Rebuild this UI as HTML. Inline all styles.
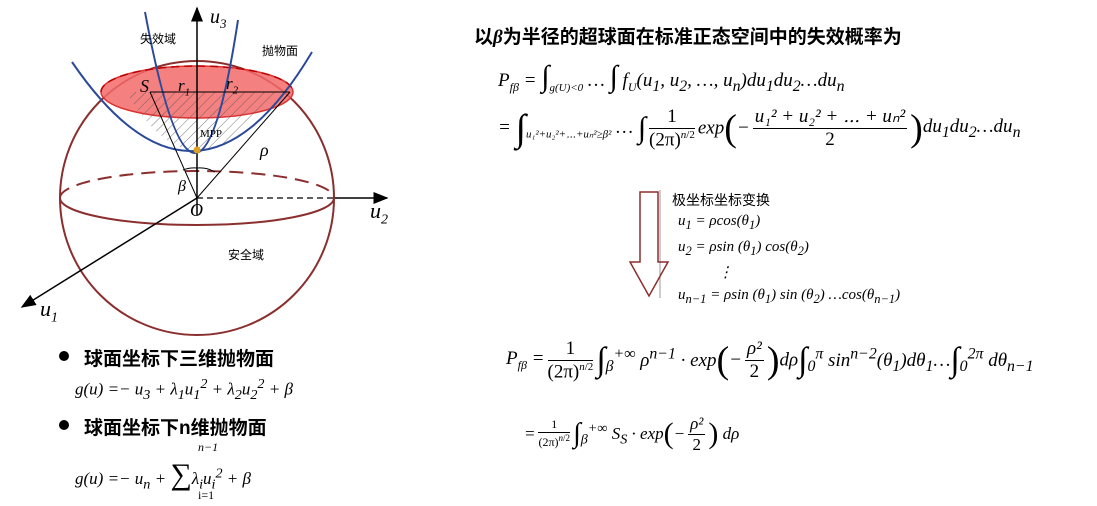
<!DOCTYPE html>
<html><head><meta charset="utf-8"><style>
body{margin:0;width:1097px;height:506px;background:#fff;position:relative;overflow:hidden;font-family:"Liberation Serif","Noto Serif CJK SC",serif;}
.t{position:absolute;white-space:nowrap;color:#000;}
.i{font-style:italic}
.cn{font-family:"Liberation Sans","Noto Sans CJK SC",sans-serif;}
.f{display:inline-block;vertical-align:middle;text-align:center;margin:0 3px}
.f>span{display:block;line-height:1.15}
.f>span:first-child{border-bottom:1px solid #000;padding:0 2px}
.p{font-size:38px;font-style:normal;vertical-align:middle;font-weight:lighter}
</style></head><body>
<svg width="1097" height="506" style="position:absolute;left:0;top:0">
<defs>
<pattern id="h" width="7" height="7" patternUnits="userSpaceOnUse" patternTransform="rotate(45)"><line x1="0" y1="0" x2="0" y2="7" stroke="#555" stroke-width="0.8"/></pattern>
<marker id="a" markerWidth="10" markerHeight="8" refX="9" refY="4" orient="auto"><path d="M0,0 L10,4 L0,8 z" fill="#000"/></marker>
</defs>
<circle cx="197" cy="198" r="137" fill="none" stroke="#8b2e2e" stroke-width="2"/>
<path d="M60,198 A137,27 0 0 1 334,198" fill="none" stroke="#8b2e2e" stroke-width="2" stroke-dasharray="14,8"/>
<path d="M60,198 A137,27 0 0 0 334,198" fill="none" stroke="#8b2e2e" stroke-width="2"/>
<ellipse cx="197" cy="92" rx="96" ry="26" fill="#f26a6a" fill-opacity="0.85" stroke="#d33" stroke-width="1.5"/>
<path d="M101,92 A96,26 0 0 1 293,92" fill="none" stroke="#b00" stroke-dasharray="8,5" stroke-width="1.5"/>
<path d="M126,92 Q197,210 275,92 Z" fill="url(#h)"/>
<path d="M72,62 Q197,245 312,52" fill="none" stroke="#2b4a9a" stroke-width="2"/>
<path d="M145,12 Q197,290 238,20" fill="none" stroke="#2b4a9a" stroke-width="2"/>
<line x1="197" y1="215" x2="197" y2="8" stroke="#000" stroke-width="1.5" marker-end="url(#a)"/>
<line x1="197" y1="198" x2="335" y2="198" stroke="#000" stroke-width="1.2" stroke-dasharray="6,4"/>
<line x1="335" y1="198" x2="387" y2="198" stroke="#000" stroke-width="1.5" marker-end="url(#a)"/>
<line x1="197" y1="198" x2="22" y2="307" stroke="#000" stroke-width="1.5" marker-end="url(#a)"/>
<line x1="197" y1="198" x2="290" y2="92" stroke="#000" stroke-width="1"/>
<line x1="197" y1="198" x2="150" y2="92" stroke="#000" stroke-width="1"/>
<line x1="197" y1="92" x2="150" y2="92" stroke="#000" stroke-width="1"/>
<line x1="197" y1="92" x2="290" y2="92" stroke="#000" stroke-width="1"/>
<circle cx="197" cy="150" r="3.5" fill="#e0a020"/>
<path d="M183,170 A30,30 0 0 1 197,168" fill="none" stroke="#000"/>
<path d="M197,168 A30,30 0 0 1 215,172" fill="none" stroke="#000"/>
<line x1="660" y1="190" x2="660" y2="298" stroke="#999"/>
<path d="M640,192 L658,192 L658,262 L668,262 L649,296 L630,262 L640,262 Z" fill="none" stroke="#8b2e2e" stroke-width="1.5"/>
<circle cx="64" cy="356" r="5" fill="#000"/>
<circle cx="64" cy="425" r="5" fill="#000"/>
</svg>
<div class="t i" style="left:210px;top:6px;font-size:20px">u<sub style="font-size:13px">3</sub></div>
<div class="t cn" style="left:140px;top:30px;font-size:12px">失效域</div>
<div class="t cn" style="left:262px;top:42px;font-size:12px">抛物面</div>
<div class="t i" style="left:140px;top:76px;font-size:18px">S</div>
<div class="t i" style="left:178px;top:76px;font-size:17px">r<sub style="font-size:11px">1</sub></div>
<div class="t i" style="left:226px;top:74px;font-size:17px">r<sub style="font-size:11px">2</sub></div>
<div class="t" style="left:200px;top:128px;font-size:11px">MPP</div>
<div class="t i" style="left:260px;top:140px;font-size:18px">ρ</div>
<div class="t i" style="left:178px;top:178px;font-size:16px">β</div>
<div class="t i" style="left:190px;top:200px;font-size:18px">O</div>
<div class="t i" style="left:370px;top:198px;font-size:22px">u<sub style="font-size:14px">2</sub></div>
<div class="t i" style="left:40px;top:296px;font-size:22px">u<sub style="font-size:14px">1</sub></div>
<div class="t cn" style="left:228px;top:246px;font-size:12px">安全域</div>
<div class="t cn" style="left:84px;top:344px;font-size:19px;font-weight:bold">球面坐标下三维抛物面</div>
<div class="t i" style="left:75px;top:376px;font-size:17px">g(u) =− u<sub>3</sub> + λ<sub>1</sub>u<sub>1</sub><sup>2</sup> + λ<sub>2</sub>u<sub>2</sub><sup>2</sup> + β</div>
<div class="t cn" style="left:84px;top:413px;font-size:19px;font-weight:bold">球面坐标下n维抛物面</div>
<div class="t i" style="left:75px;top:458px;font-size:17px">g(u) =− u<sub>n</sub> + <span style="font-size:30px;font-style:normal">∑</span>λ<sub>i</sub>u<sub>i</sub><sup>2</sup> + β</div>
<div class="t i" style="left:198px;top:440px;font-size:12px">n−1</div>
<div class="t" style="left:198px;top:488px;font-size:12px">i=1</div>
<div class="t cn" style="left:474px;top:22px;font-size:19px;font-weight:bold">以<i style="font-family:'Liberation Serif'">β</i>为半径的超球面在标准正态空间中的失效概率为</div>
<div class="t i" style="left:498px;top:60px;font-size:19px">P<sub style="font-size:12px">fβ</sub> = <span style="font-size:30px">∫</span><sub style="font-size:11px">g(U)&lt;0</sub> … <span style="font-size:30px">∫</span> f<sub style="font-size:12px">U</sub>(u<sub>1</sub>, u<sub>2</sub>, …, u<sub>n</sub>)du<sub>1</sub>du<sub>2</sub>…du<sub>n</sub></div>
<div class="t i" style="left:498px;top:106px;font-size:19px">= <span style="font-size:38px;vertical-align:middle">∫</span><sub style="font-size:11px">u₁²+u₂²+⋯+uₙ²≥β²</sub> … <span style="font-size:30px;vertical-align:middle">∫</span><span class="f" style="font-style:normal"><span>1</span><span>(2π)<sup style="font-size:11px"><i>n</i>/2</sup></span></span><span style="vertical-align:middle">exp</span><span class="p">(</span><span style="vertical-align:middle">−</span><span class="f"><span>u₁² + u₂² + ⋯ + uₙ²</span><span style="font-style:normal">2</span></span><span class="p">)</span><span style="vertical-align:middle">du<sub>1</sub>du<sub>2</sub>…du<sub>n</sub></span></div>
<div class="t cn" style="left:672px;top:190px;font-size:14px">极坐标坐标变换</div>
<div class="t i" style="left:678px;top:210px;font-size:15px;line-height:22px">u<sub>1</sub> = ρcos(θ<sub>1</sub>)<br>u<sub>2</sub> = ρsin (θ<sub>1</sub>) cos(θ<sub>2</sub>)<br><span style="margin-left:40px">⋮</span><br>u<sub>n−1</sub> = ρsin (θ<sub>1</sub>) sin (θ<sub>2</sub>) …cos(θ<sub>n−1</sub>)</div>
<div class="t i" style="left:506px;top:338px;font-size:19px"><span style="vertical-align:middle">P<sub style="font-size:12px">fβ</sub> =</span><span class="f" style="font-style:normal"><span>1</span><span>(2π)<sup style="font-size:11px"><i>n</i>/2</sup></span></span><span style="font-size:34px;vertical-align:middle">∫</span><span style="vertical-align:middle"><sub>β</sub><sup>+∞</sup> ρ<sup>n−1</sup> · exp</span><span class="p">(</span><span style="vertical-align:middle">−</span><span class="f"><span>ρ²</span><span style="font-style:normal">2</span></span><span class="p">)</span><span style="vertical-align:middle">dρ</span><span style="font-size:34px;vertical-align:middle">∫</span><span style="vertical-align:middle"><sub>0</sub><sup>π</sup> sin<sup>n−2</sup>(θ<sub>1</sub>)dθ<sub>1</sub>…</span><span style="font-size:34px;vertical-align:middle">∫</span><span style="vertical-align:middle"><sub>0</sub><sup>2π</sup> dθ<sub>n−1</sub></span></div>
<div class="t i" style="left:524px;top:414px;font-size:17px"><span style="vertical-align:middle">=</span><span class="f" style="font-style:normal;font-size:12px"><span>1</span><span>(2π)<sup style="font-size:9px"><i>n</i>/2</sup></span></span><span style="font-size:28px;vertical-align:middle">∫</span><span style="vertical-align:middle"><sub>β</sub><sup>+∞</sup> S<sub>S</sub> · exp</span><span class="p" style="font-size:30px">(</span><span style="vertical-align:middle">−</span><span class="f"><span>ρ²</span><span style="font-style:normal">2</span></span><span class="p" style="font-size:30px">)</span><span style="vertical-align:middle"> dρ</span></div>
</body></html>
